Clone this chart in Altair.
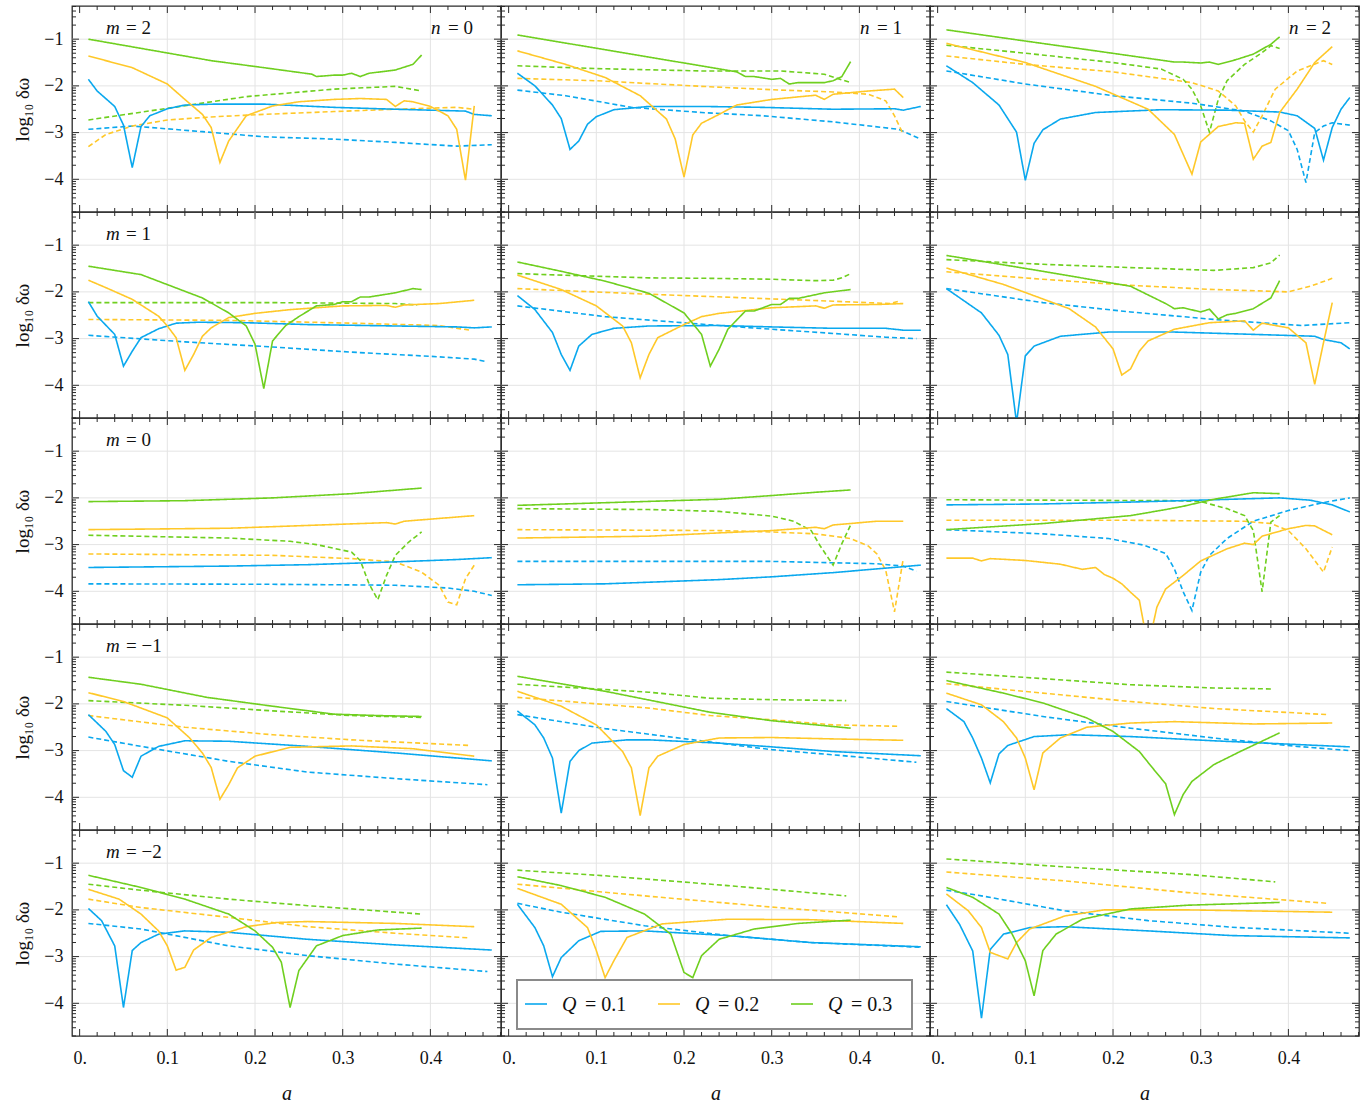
import math
import altair as alt
import pandas as pd

# ---------------- axes / layout constants ----------------
A_DOMAIN = [-0.0087, 0.4805]
V_DOMAIN = [-4.70, -0.29]
W, H = 429, 206

Q_VALUES = ["0.1", "0.2", "0.3"]
Q_COLORS = ["#0AA8EE", "#FFC829", "#6FCF1F"]
M_VALUES = [2, 1, 0, -1, -2]
N_VALUES = [0, 1, 2]

X_MAJOR = [0.0, 0.1, 0.2, 0.3, 0.4]
X_GRID = [0.1, 0.2, 0.3, 0.4]
X_MINOR = [0.02, 0.04, 0.06, 0.08, 0.12, 0.14, 0.16, 0.18, 0.22, 0.24, 0.26, 0.28,
           0.32, 0.34, 0.36, 0.38, 0.42, 0.44, 0.46, 0.48]
Y_MAJOR = [-1, -2, -3, -4]
Y_MINOR = [d + math.log10(k) for d in (-5, -4, -3, -2, -1) for k in range(2, 10)
           if V_DOMAIN[0] < d + math.log10(k) < V_DOMAIN[1]]

# ---------------- data: (a, log10 delta omega) ----------------
m2_n0 = {
    ("0.1", "solid"): [(0.01,-1.86),(0.02,-2.11),(0.04,-2.44),(0.05,-2.84),(0.06,-3.75),(0.07,-2.87),(0.08,-2.64),(0.10,-2.49),(0.12,-2.41),(0.155,-2.39),(0.21,-2.39),(0.29,-2.46),(0.36,-2.50),(0.44,-2.54),(0.45,-2.61),(0.47,-2.64)],
    ("0.1", "dashed"): [(0.01,-2.93),(0.06,-2.86),(0.14,-2.98),(0.21,-3.09),(0.29,-3.14),(0.36,-3.21),(0.43,-3.29),(0.47,-3.26)],
    ("0.2", "solid"): [(0.01,-1.36),(0.06,-1.61),(0.10,-1.96),(0.12,-2.29),(0.14,-2.61),(0.15,-2.89),(0.16,-3.64),(0.17,-3.18),(0.19,-2.64),(0.22,-2.43),(0.25,-2.34),(0.29,-2.29),(0.32,-2.27),(0.35,-2.29),(0.36,-2.44),(0.37,-2.32),(0.38,-2.34),(0.40,-2.44),(0.42,-2.64),(0.43,-2.93),(0.44,-4.02),(0.45,-2.43)],
    ("0.2", "dashed"): [(0.01,-3.30),(0.03,-3.04),(0.06,-2.86),(0.10,-2.73),(0.155,-2.66),(0.21,-2.61),(0.29,-2.55),(0.36,-2.50),(0.43,-2.46),(0.45,-2.50)],
    ("0.3", "solid"): [(0.01,-1.00),(0.15,-1.46),(0.21,-1.61),(0.265,-1.75),(0.27,-1.80),(0.29,-1.77),(0.30,-1.77),(0.31,-1.73),(0.32,-1.80),(0.33,-1.73),(0.36,-1.66),(0.38,-1.54),(0.39,-1.34)],
    ("0.3", "dashed"): [(0.01,-2.73),(0.10,-2.48),(0.19,-2.23),(0.29,-2.07),(0.36,-2.01),(0.39,-2.11)],
}
m2_n1 = {
    ("0.1", "solid"): [(0.01,-1.73),(0.03,-2.00),(0.05,-2.41),(0.06,-2.70),(0.07,-3.36),(0.08,-3.18),(0.09,-2.82),(0.10,-2.66),(0.12,-2.51),(0.16,-2.44),(0.22,-2.44),(0.29,-2.46),(0.37,-2.50),(0.44,-2.49),(0.45,-2.52),(0.47,-2.44)],
    ("0.1", "dashed"): [(0.01,-2.09),(0.065,-2.21),(0.14,-2.46),(0.22,-2.57),(0.29,-2.64),(0.37,-2.77),(0.445,-2.93),(0.47,-3.14)],
    ("0.2", "solid"): [(0.01,-1.25),(0.065,-1.54),(0.11,-1.82),(0.15,-2.21),(0.18,-2.71),(0.19,-3.14),(0.20,-3.95),(0.21,-3.05),(0.22,-2.80),(0.24,-2.61),(0.26,-2.41),(0.30,-2.29),(0.35,-2.20),(0.36,-2.29),(0.37,-2.18),(0.41,-2.11),(0.44,-2.07),(0.45,-2.25)],
    ("0.2", "dashed"): [(0.01,-1.84),(0.10,-1.89),(0.22,-2.01),(0.31,-2.09),(0.37,-2.13),(0.41,-2.18),(0.43,-2.32),(0.44,-2.64),(0.45,-3.04)],
    ("0.3", "solid"): [(0.01,-0.91),(0.20,-1.51),(0.26,-1.70),(0.27,-1.80),(0.28,-1.80),(0.30,-1.86),(0.31,-1.84),(0.32,-1.96),(0.33,-1.93),(0.36,-1.93),(0.37,-1.89),(0.38,-1.80),(0.39,-1.48)],
    ("0.3", "dashed"): [(0.01,-1.57),(0.10,-1.63),(0.22,-1.68),(0.31,-1.68),(0.36,-1.75),(0.39,-1.93)],
}
m2_n2 = {
    ("0.1", "solid"): [(0.01,-1.57),(0.04,-1.93),(0.07,-2.41),(0.09,-2.99),(0.10,-4.02),(0.11,-3.23),(0.12,-2.94),(0.14,-2.71),(0.18,-2.57),(0.255,-2.51),(0.33,-2.52),(0.39,-2.56),(0.41,-2.64),(0.43,-2.91),(0.44,-3.59),(0.45,-2.89),(0.46,-2.50),(0.47,-2.25)],
    ("0.1", "dashed"): [(0.01,-1.68),(0.10,-1.96),(0.20,-2.21),(0.29,-2.37),(0.35,-2.54),(0.38,-2.75),(0.40,-2.96),(0.41,-3.36),(0.42,-4.07),(0.43,-3.00),(0.44,-2.86),(0.45,-2.79),(0.47,-2.84)],
    ("0.2", "solid"): [(0.01,-1.09),(0.10,-1.50),(0.18,-2.01),(0.24,-2.50),(0.27,-3.04),(0.29,-3.89),(0.30,-3.20),(0.32,-2.87),(0.34,-2.79),(0.35,-2.80),(0.36,-3.57),(0.37,-3.29),(0.38,-3.21),(0.39,-2.57),(0.41,-2.07),(0.43,-1.50),(0.45,-1.16)],
    ("0.2", "dashed"): [(0.01,-1.36),(0.10,-1.54),(0.20,-1.70),(0.29,-1.93),(0.32,-2.11),(0.34,-2.43),(0.35,-2.75),(0.36,-2.99),(0.37,-2.64),(0.385,-2.07),(0.41,-1.68),(0.44,-1.46),(0.45,-1.54)],
    ("0.3", "solid"): [(0.01,-0.80),(0.10,-1.04),(0.18,-1.25),(0.27,-1.49),(0.28,-1.49),(0.30,-1.51),(0.31,-1.49),(0.32,-1.54),(0.34,-1.44),(0.36,-1.32),(0.38,-1.11),(0.39,-0.95)],
    ("0.3", "dashed"): [(0.01,-1.13),(0.10,-1.30),(0.20,-1.50),(0.255,-1.64),(0.28,-1.86),(0.29,-2.07),(0.30,-2.43),(0.31,-2.99),(0.32,-2.29),(0.33,-1.89),(0.35,-1.54),(0.37,-1.29),(0.38,-1.14),(0.39,-1.20)],
}
m1_n0 = {
    ("0.1", "solid"): [(0.01,-2.21),(0.02,-2.52),(0.04,-2.91),(0.05,-3.59),(0.06,-3.27),(0.07,-2.98),(0.09,-2.79),(0.11,-2.67),(0.135,-2.65),(0.19,-2.66),(0.26,-2.70),(0.36,-2.73),(0.43,-2.75),(0.45,-2.77),(0.47,-2.75)],
    ("0.1", "dashed"): [(0.01,-2.93),(0.12,-3.07),(0.22,-3.18),(0.31,-3.29),(0.41,-3.39),(0.45,-3.44),(0.465,-3.50)],
    ("0.2", "solid"): [(0.01,-1.75),(0.03,-1.91),(0.06,-2.16),(0.09,-2.52),(0.10,-2.73),(0.11,-2.98),(0.12,-3.68),(0.13,-3.34),(0.14,-2.95),(0.15,-2.77),(0.17,-2.55),(0.20,-2.46),(0.24,-2.38),(0.30,-2.30),(0.35,-2.29),(0.36,-2.33),(0.37,-2.28),(0.41,-2.25),(0.45,-2.18)],
    ("0.2", "dashed"): [(0.01,-2.59),(0.17,-2.61),(0.31,-2.67),(0.41,-2.72),(0.445,-2.82)],
    ("0.3", "solid"): [(0.01,-1.45),(0.07,-1.63),(0.14,-2.13),(0.17,-2.45),(0.19,-2.73),(0.20,-3.12),(0.21,-4.07),(0.22,-3.05),(0.235,-2.72),(0.25,-2.53),(0.27,-2.30),(0.29,-2.27),(0.30,-2.21),(0.31,-2.21),(0.32,-2.11),(0.33,-2.11),(0.36,-2.02),(0.38,-1.93),(0.39,-1.95)],
    ("0.3", "dashed"): [(0.01,-2.23),(0.22,-2.23),(0.36,-2.25),(0.385,-2.28)],
}
m1_n1 = {
    ("0.1", "solid"): [(0.01,-2.08),(0.03,-2.38),(0.05,-2.87),(0.06,-3.34),(0.07,-3.68),(0.08,-3.16),(0.095,-2.91),(0.12,-2.78),(0.16,-2.73),(0.24,-2.72),(0.30,-2.75),(0.37,-2.78),(0.43,-2.78),(0.45,-2.82),(0.47,-2.82)],
    ("0.1", "dashed"): [(0.01,-2.30),(0.11,-2.53),(0.24,-2.72),(0.30,-2.80),(0.37,-2.89),(0.43,-2.97),(0.465,-3.00)],
    ("0.2", "solid"): [(0.01,-1.64),(0.06,-1.95),(0.10,-2.30),(0.13,-2.73),(0.14,-3.09),(0.15,-3.84),(0.16,-3.34),(0.17,-2.98),(0.20,-2.70),(0.22,-2.53),(0.24,-2.46),(0.30,-2.34),(0.35,-2.30),(0.36,-2.35),(0.37,-2.28),(0.42,-2.27),(0.45,-2.25)],
    ("0.2", "dashed"): [(0.01,-1.93),(0.16,-2.05),(0.23,-2.10),(0.30,-2.15),(0.37,-2.20),(0.435,-2.25),(0.445,-2.20)],
    ("0.3", "solid"): [(0.01,-1.36),(0.06,-1.56),(0.11,-1.77),(0.16,-2.03),(0.20,-2.45),(0.22,-2.91),(0.23,-3.59),(0.24,-3.23),(0.25,-2.80),(0.27,-2.41),(0.28,-2.41),(0.30,-2.27),(0.31,-2.27),(0.32,-2.14),(0.33,-2.14),(0.36,-2.02),(0.39,-1.95)],
    ("0.3", "dashed"): [(0.01,-1.61),(0.16,-1.70),(0.23,-1.71),(0.30,-1.73),(0.35,-1.76),(0.37,-1.75),(0.38,-1.70),(0.39,-1.61)],
}
m1_n2 = {
    ("0.1", "solid"): [(0.01,-1.93),(0.05,-2.45),(0.07,-2.93),(0.08,-3.34),(0.09,-4.80),(0.10,-3.37),(0.11,-3.16),(0.14,-2.95),(0.195,-2.86),(0.27,-2.86),(0.36,-2.91),(0.43,-2.95),(0.44,-3.02),(0.46,-3.09),(0.47,-3.22)],
    ("0.1", "dashed"): [(0.01,-1.93),(0.12,-2.23),(0.22,-2.43),(0.315,-2.59),(0.415,-2.72),(0.47,-2.66)],
    ("0.2", "solid"): [(0.01,-1.49),(0.075,-1.84),(0.15,-2.36),(0.18,-2.75),(0.20,-3.22),(0.21,-3.78),(0.22,-3.65),(0.23,-3.27),(0.24,-3.05),(0.27,-2.80),(0.31,-2.66),(0.35,-2.62),(0.36,-2.82),(0.37,-2.67),(0.40,-2.77),(0.42,-3.09),(0.43,-3.98),(0.44,-3.09),(0.45,-2.23)],
    ("0.2", "dashed"): [(0.01,-1.57),(0.12,-1.73),(0.22,-1.86),(0.315,-1.95),(0.40,-2.00),(0.425,-1.88),(0.45,-1.71)],
    ("0.3", "solid"): [(0.01,-1.22),(0.12,-1.56),(0.22,-1.88),(0.26,-2.25),(0.27,-2.36),(0.28,-2.34),(0.30,-2.43),(0.31,-2.37),(0.32,-2.58),(0.33,-2.49),(0.34,-2.46),(0.36,-2.36),(0.38,-2.13),(0.39,-1.76)],
    ("0.3", "dashed"): [(0.01,-1.31),(0.12,-1.41),(0.22,-1.48),(0.315,-1.54),(0.36,-1.48),(0.38,-1.38),(0.39,-1.21)],
}
m0_n0 = {
    ("0.1", "solid"): [(0.01,-3.49),(0.17,-3.46),(0.26,-3.43),(0.36,-3.37),(0.43,-3.32),(0.47,-3.28)],
    ("0.1", "dashed"): [(0.01,-3.84),(0.22,-3.85),(0.36,-3.87),(0.42,-3.93),(0.45,-4.00),(0.47,-4.09)],
    ("0.2", "solid"): [(0.01,-2.68),(0.17,-2.65),(0.26,-2.59),(0.35,-2.53),(0.36,-2.56),(0.37,-2.50),(0.45,-2.38)],
    ("0.2", "dashed"): [(0.01,-3.20),(0.22,-3.23),(0.31,-3.30),(0.36,-3.37),(0.39,-3.59),(0.41,-3.87),(0.42,-4.23),(0.43,-4.29),(0.44,-3.73),(0.45,-3.44)],
    ("0.3", "solid"): [(0.01,-2.08),(0.12,-2.06),(0.22,-2.00),(0.31,-1.91),(0.39,-1.79)],
    ("0.3", "dashed"): [(0.01,-2.80),(0.17,-2.86),(0.24,-2.93),(0.27,-3.00),(0.31,-3.16),(0.32,-3.34),(0.33,-3.84),(0.34,-4.18),(0.35,-3.66),(0.36,-3.23),(0.375,-2.95),(0.39,-2.73)],
}
m0_n1 = {
    ("0.1", "solid"): [(0.01,-3.86),(0.11,-3.84),(0.24,-3.75),(0.30,-3.69),(0.37,-3.60),(0.42,-3.52),(0.47,-3.44)],
    ("0.1", "dashed"): [(0.01,-3.36),(0.30,-3.36),(0.42,-3.41),(0.45,-3.46),(0.465,-3.57)],
    ("0.2", "solid"): [(0.01,-2.86),(0.16,-2.82),(0.24,-2.75),(0.30,-2.70),(0.35,-2.63),(0.36,-2.66),(0.37,-2.58),(0.42,-2.50),(0.45,-2.50)],
    ("0.2", "dashed"): [(0.01,-2.68),(0.24,-2.70),(0.30,-2.73),(0.35,-2.77),(0.39,-2.87),(0.41,-3.03),(0.42,-3.20),(0.43,-3.55),(0.44,-4.44),(0.45,-3.30)],
    ("0.3", "solid"): [(0.01,-2.16),(0.24,-2.03),(0.30,-1.95),(0.35,-1.88),(0.39,-1.83)],
    ("0.3", "dashed"): [(0.01,-2.23),(0.16,-2.25),(0.24,-2.29),(0.30,-2.39),(0.325,-2.50),(0.345,-2.70),(0.355,-3.02),(0.37,-3.44),(0.38,-2.98),(0.39,-2.58)],
}
m0_n2 = {
    ("0.1", "solid"): [(0.01,-2.15),(0.12,-2.13),(0.22,-2.09),(0.315,-2.04),(0.39,-2.00),(0.425,-2.05),(0.45,-2.15),(0.47,-2.30)],
    ("0.1", "dashed"): [(0.01,-2.68),(0.12,-2.77),(0.195,-2.87),(0.235,-3.01),(0.26,-3.19),(0.27,-3.52),(0.28,-4.01),(0.29,-4.41),(0.30,-3.59),(0.31,-3.23),(0.33,-2.87),(0.36,-2.50),(0.40,-2.27),(0.44,-2.10),(0.47,-2.00)],
    ("0.2", "solid"): [(0.01,-3.29),(0.04,-3.29),(0.05,-3.35),(0.06,-3.30),(0.10,-3.34),(0.14,-3.42),(0.165,-3.53),(0.18,-3.49),(0.19,-3.64),(0.20,-3.72),(0.21,-3.84),(0.22,-4.02),(0.23,-4.19),(0.24,-5.20),(0.25,-4.34),(0.26,-3.95),(0.28,-3.66),(0.30,-3.35),(0.33,-3.09),(0.35,-2.97),(0.36,-3.00),(0.37,-2.82),(0.40,-2.66),(0.42,-2.59),(0.43,-2.60),(0.45,-2.79)],
    ("0.2", "dashed"): [(0.01,-2.48),(0.22,-2.48),(0.35,-2.50),(0.38,-2.55),(0.40,-2.70),(0.42,-3.09),(0.44,-3.59),(0.45,-3.05)],
    ("0.3", "solid"): [(0.01,-2.68),(0.12,-2.55),(0.22,-2.38),(0.26,-2.25),(0.28,-2.18),(0.315,-2.03),(0.36,-1.89),(0.39,-1.91)],
    ("0.3", "dashed"): [(0.01,-2.04),(0.27,-2.06),(0.30,-2.08),(0.33,-2.23),(0.35,-2.38),(0.36,-2.70),(0.37,-4.01),(0.38,-2.52),(0.39,-2.38)],
}
mm1_n0 = {
    ("0.1", "solid"): [(0.01,-2.23),(0.03,-2.59),(0.04,-2.87),(0.05,-3.43),(0.06,-3.57),(0.07,-3.12),(0.09,-2.91),(0.12,-2.79),(0.17,-2.80),(0.26,-2.91),(0.36,-3.05),(0.47,-3.22)],
    ("0.1", "dashed"): [(0.01,-2.71),(0.07,-2.91),(0.17,-3.23),(0.26,-3.46),(0.36,-3.60),(0.465,-3.73)],
    ("0.2", "solid"): [(0.01,-1.76),(0.05,-1.95),(0.10,-2.30),(0.125,-2.72),(0.14,-3.05),(0.15,-3.36),(0.16,-4.04),(0.17,-3.73),(0.18,-3.37),(0.20,-3.12),(0.24,-2.93),(0.31,-2.90),(0.38,-2.96),(0.45,-3.12)],
    ("0.2", "dashed"): [(0.01,-2.25),(0.12,-2.50),(0.22,-2.66),(0.31,-2.77),(0.445,-2.89)],
    ("0.3", "solid"): [(0.01,-1.43),(0.07,-1.58),(0.145,-1.86),(0.22,-2.05),(0.29,-2.22),(0.34,-2.25),(0.39,-2.27)],
    ("0.3", "dashed"): [(0.01,-1.93),(0.12,-2.03),(0.22,-2.15),(0.31,-2.25),(0.39,-2.29)],
}
mm1_n1 = {
    ("0.1", "solid"): [(0.01,-2.15),(0.03,-2.45),(0.04,-2.73),(0.05,-3.16),(0.06,-4.34),(0.07,-3.23),(0.08,-3.00),(0.095,-2.84),(0.135,-2.77),(0.16,-2.77),(0.24,-2.84),(0.30,-2.92),(0.37,-3.02),(0.47,-3.11)],
    ("0.1", "dashed"): [(0.01,-2.23),(0.11,-2.53),(0.24,-2.84),(0.30,-2.98),(0.37,-3.09),(0.465,-3.25)],
    ("0.2", "solid"): [(0.01,-1.73),(0.06,-2.05),(0.10,-2.45),(0.13,-3.02),(0.14,-3.37),(0.15,-4.39),(0.16,-3.37),(0.17,-3.12),(0.20,-2.87),(0.24,-2.73),(0.30,-2.72),(0.37,-2.75),(0.45,-2.78)],
    ("0.2", "dashed"): [(0.01,-1.86),(0.16,-2.09),(0.23,-2.25),(0.30,-2.34),(0.37,-2.45),(0.445,-2.48)],
    ("0.3", "solid"): [(0.01,-1.41),(0.11,-1.73),(0.23,-2.18),(0.30,-2.36),(0.39,-2.52)],
    ("0.3", "dashed"): [(0.01,-1.58),(0.16,-1.75),(0.23,-1.88),(0.30,-1.91),(0.385,-1.93)],
}
mm1_n2 = {
    ("0.1", "solid"): [(0.01,-2.10),(0.03,-2.38),(0.04,-2.73),(0.05,-3.16),(0.06,-3.69),(0.07,-3.07),(0.08,-2.89),(0.11,-2.70),(0.15,-2.66),(0.22,-2.70),(0.315,-2.79),(0.41,-2.87),(0.47,-2.92)],
    ("0.1", "dashed"): [(0.01,-1.95),(0.12,-2.27),(0.22,-2.52),(0.315,-2.73),(0.41,-2.91),(0.47,-3.00)],
    ("0.2", "solid"): [(0.01,-1.77),(0.05,-2.02),(0.075,-2.38),(0.09,-2.73),(0.10,-3.16),(0.11,-3.84),(0.12,-3.05),(0.14,-2.73),(0.17,-2.50),(0.22,-2.41),(0.27,-2.38),(0.36,-2.43),(0.45,-2.41)],
    ("0.2", "dashed"): [(0.01,-1.57),(0.12,-1.77),(0.22,-1.95),(0.315,-2.10),(0.445,-2.23)],
    ("0.3", "solid"): [(0.01,-1.50),(0.075,-1.77),(0.12,-1.98),(0.17,-2.30),(0.20,-2.59),(0.23,-3.02),(0.245,-3.37),(0.26,-3.71),(0.27,-4.37),(0.28,-3.94),(0.29,-3.66),(0.315,-3.30),(0.345,-3.02),(0.39,-2.62)],
    ("0.3", "dashed"): [(0.01,-1.32),(0.12,-1.46),(0.22,-1.59),(0.315,-1.66),(0.38,-1.68)],
}
mm2_n0 = {
    ("0.1", "solid"): [(0.01,-1.97),(0.025,-2.23),(0.04,-2.77),(0.05,-4.09),(0.06,-2.87),(0.07,-2.70),(0.09,-2.52),(0.12,-2.45),(0.17,-2.48),(0.26,-2.63),(0.36,-2.75),(0.47,-2.86)],
    ("0.1", "dashed"): [(0.01,-2.29),(0.07,-2.41),(0.17,-2.77),(0.26,-2.98),(0.36,-3.16),(0.465,-3.32)],
    ("0.2", "solid"): [(0.01,-1.56),(0.045,-1.77),(0.07,-2.09),(0.09,-2.45),(0.10,-2.77),(0.11,-3.29),(0.12,-3.23),(0.13,-2.86),(0.15,-2.59),(0.19,-2.36),(0.225,-2.27),(0.26,-2.25),(0.36,-2.29),(0.45,-2.36)],
    ("0.2", "dashed"): [(0.01,-1.77),(0.07,-1.95),(0.17,-2.16),(0.26,-2.36),(0.36,-2.50),(0.445,-2.60)],
    ("0.3", "solid"): [(0.01,-1.26),(0.07,-1.52),(0.12,-1.77),(0.17,-2.09),(0.20,-2.45),(0.22,-2.80),(0.23,-3.12),(0.24,-4.09),(0.25,-3.30),(0.27,-2.77),(0.30,-2.55),(0.34,-2.43),(0.39,-2.39)],
    ("0.3", "dashed"): [(0.01,-1.45),(0.07,-1.58),(0.17,-1.77),(0.26,-1.91),(0.39,-2.09)],
}
mm2_n1 = {
    ("0.1", "solid"): [(0.01,-1.88),(0.03,-2.38),(0.04,-2.77),(0.05,-3.43),(0.06,-3.02),(0.08,-2.66),(0.105,-2.46),(0.155,-2.45),(0.25,-2.55),(0.345,-2.70),(0.47,-2.79)],
    ("0.1", "dashed"): [(0.01,-1.86),(0.06,-2.05),(0.155,-2.34),(0.25,-2.55),(0.345,-2.70),(0.47,-2.80)],
    ("0.2", "solid"): [(0.01,-1.54),(0.06,-1.88),(0.09,-2.38),(0.10,-2.87),(0.11,-3.45),(0.12,-3.09),(0.135,-2.59),(0.175,-2.30),(0.25,-2.20),(0.345,-2.21),(0.45,-2.29)],
    ("0.2", "dashed"): [(0.01,-1.45),(0.155,-1.70),(0.30,-1.94),(0.445,-2.15)],
    ("0.3", "solid"): [(0.01,-1.29),(0.06,-1.48),(0.11,-1.73),(0.155,-2.09),(0.185,-2.52),(0.20,-3.34),(0.21,-3.45),(0.22,-2.98),(0.24,-2.63),(0.28,-2.41),(0.33,-2.29),(0.39,-2.22)],
    ("0.3", "dashed"): [(0.01,-1.15),(0.11,-1.27),(0.25,-1.48),(0.385,-1.70)],
}
mm2_n2 = {
    ("0.1", "solid"): [(0.01,-1.89),(0.025,-2.31),(0.04,-2.88),(0.05,-4.32),(0.06,-2.85),(0.075,-2.52),(0.105,-2.38),(0.145,-2.36),(0.24,-2.45),(0.335,-2.55),(0.47,-2.60)],
    ("0.1", "dashed"): [(0.01,-1.58),(0.05,-1.70),(0.145,-2.02),(0.24,-2.23),(0.335,-2.37),(0.47,-2.50)],
    ("0.2", "solid"): [(0.01,-1.66),(0.035,-2.02),(0.05,-2.38),(0.06,-2.91),(0.07,-2.98),(0.08,-3.05),(0.09,-2.70),(0.105,-2.41),(0.145,-2.13),(0.19,-2.00),(0.285,-2.00),(0.45,-2.05)],
    ("0.2", "dashed"): [(0.01,-1.19),(0.145,-1.38),(0.285,-1.63),(0.445,-1.86)],
    ("0.3", "solid"): [(0.01,-1.52),(0.04,-1.73),(0.07,-2.09),(0.085,-2.52),(0.10,-3.09),(0.11,-3.84),(0.12,-2.87),(0.135,-2.52),(0.165,-2.20),(0.22,-1.98),(0.285,-1.90),(0.39,-1.84)],
    ("0.3", "dashed"): [(0.01,-0.91),(0.145,-1.08),(0.285,-1.24),(0.385,-1.40)],
}

PANELS = {
    (2, 0): m2_n0, (2, 1): m2_n1, (2, 2): m2_n2,
    (1, 0): m1_n0, (1, 1): m1_n1, (1, 2): m1_n2,
    (0, 0): m0_n0, (0, 1): m0_n1, (0, 2): m0_n2,
    (-1, 0): mm1_n0, (-1, 1): mm1_n1, (-1, 2): mm1_n2,
    (-2, 0): mm2_n0, (-2, 1): mm2_n1, (-2, 2): mm2_n2,
}

# ---------------- styling ----------------
FONT = "Liberation Serif"
FRAME = "#2b2b2b"
GRID = "#e4e4e4"
MAJ, MINL = 7, 4


def minus(v):
    return str(v).replace("-", "\u2212")


def make_panel(m, n, r, c):
    bottom = r == len(M_VALUES) - 1
    left = c == 0
    xscale = alt.Scale(domain=A_DOMAIN, nice=False, zero=False)
    yscale = alt.Scale(domain=V_DOMAIN, nice=False, zero=False)
    if bottom:
        xaxis = alt.Axis(values=X_MAJOR, grid=False, ticks=False, domain=False,
                         labelExpr="datum.value == 0 ? '0.' : format(datum.value, '.1f')",
                         labelPadding=13, labelFont=FONT, labelFontSize=18, labelColor="#111",
                         title="a", titleFont=FONT, titleFontSize=20, titleFontStyle="italic",
                         titleFontWeight="normal", titleColor="#111",
                         titlePadding=16, labelFlush=False)
    else:
        xaxis = alt.Axis(values=X_MAJOR, grid=False, ticks=False, domain=False,
                         labels=False, title=None)
    if left:
        yaxis = alt.Axis(values=Y_MAJOR, grid=False, ticks=False, domain=False,
                         labelExpr="'\u2212' + abs(datum.value)", labelPadding=9,
                         labelFont=FONT, labelFontSize=18, labelColor="#111",
                         title="log\u2081\u2080 \u03b4\u03c9", titleFont=FONT, titleFontSize=19,
                         titleFontWeight="normal", titleColor="#111", titlePadding=11)
    else:
        yaxis = alt.Axis(values=Y_MAJOR, grid=False, ticks=False, domain=False,
                         labels=False, title=None)

    def X(f):
        return alt.X(f, type="quantitative", scale=xscale, axis=xaxis)

    def Y(f):
        return alt.Y(f, type="quantitative", scale=yscale, axis=yaxis)

    rows = []
    for (q, style), pts in PANELS[(m, n)].items():
        for a, v in pts:
            rows.append({"a": a, "v": v, "Q": q, "style": style})
    df = pd.DataFrame(rows)

    layers = []
    # grid lines
    layers.append(alt.Chart(pd.DataFrame({"a": X_GRID})).mark_rule(color=GRID, strokeWidth=1).encode(x=X("a")))
    layers.append(alt.Chart(pd.DataFrame({"v": Y_MAJOR})).mark_rule(color=GRID, strokeWidth=1).encode(y=Y("v")))
    color = alt.Color("Q:N", scale=alt.Scale(domain=Q_VALUES, range=Q_COLORS), legend=None)
    for style, dash in (("dashed", [5, 3]), ("solid", [1, 0])):
        layers.append(
            alt.Chart(df).transform_filter(f"datum.style == '{style}'")
            .mark_line(clip=True, strokeWidth=1.6, strokeDash=dash, strokeCap="butt")
            .encode(x=X("a"), y=Y("v"), color=color, detail="Q:N")
        )
    # inward frame ticks
    for vals, ln in ((X_MAJOR, MAJ), (X_MINOR, MINL)):
        tdf = pd.DataFrame({"a": vals})
        layers.append(alt.Chart(tdf).mark_rule(color=FRAME, strokeWidth=1).encode(
            x=X("a"), y=alt.value(H), y2=alt.value(H - ln)))
        layers.append(alt.Chart(tdf).mark_rule(color=FRAME, strokeWidth=1).encode(
            x=X("a"), y=alt.value(0), y2=alt.value(ln)))
    for vals, ln in ((Y_MAJOR, MAJ), (Y_MINOR, MINL)):
        tdf = pd.DataFrame({"v": vals})
        layers.append(alt.Chart(tdf).mark_rule(color=FRAME, strokeWidth=1).encode(
            y=Y("v"), x=alt.value(0), x2=alt.value(ln)))
        layers.append(alt.Chart(tdf).mark_rule(color=FRAME, strokeWidth=1).encode(
            y=Y("v"), x=alt.value(W), x2=alt.value(W - ln)))

    def txt(s, x, y, italic=False, align="left", size=19):
        kw = dict(font=FONT, fontSize=size, align=align, baseline="middle", color="#111")
        if italic:
            kw["fontStyle"] = "italic"
        return alt.Chart(pd.DataFrame({"t": [s]})).mark_text(**kw).encode(
            x=alt.value(x), y=alt.value(y), text="t:N")

    if left:
        layers.append(txt("m", 34, 22, italic=True))
        layers.append(txt("= " + minus(m), 54, 22))
    if r == 0:
        layers.append(txt("n", 359, 22, italic=True))
        layers.append(txt("= " + str(n), 376, 22))

    if bottom and c == 1:
        box = pd.DataFrame({"k": [0]})
        layers.append(alt.Chart(box).mark_rect(fill="white", stroke="#8a8a8a", strokeWidth=2).encode(
            x=alt.value(16), x2=alt.value(411), y=alt.value(150), y2=alt.value(199)))
        for i, q in enumerate(Q_VALUES):
            x0 = 24 + i * 133
            layers.append(alt.Chart(box).mark_rule(color=Q_COLORS[i], strokeWidth=1.6).encode(
                x=alt.value(x0), x2=alt.value(x0 + 22), y=alt.value(174)))
            layers.append(txt("Q", x0 + 37, 175, italic=True, size=20))
            layers.append(txt("= " + q, x0 + 60, 175, size=20))

    return alt.layer(*layers).properties(width=W, height=H)


panels = [make_panel(m, n, r, c) for r, m in enumerate(M_VALUES) for c, n in enumerate(N_VALUES)]

chart = (
    alt.concat(*panels, columns=3, spacing=0, bounds="flush")
    .properties(padding={"left": 13, "top": 4, "right": 5, "bottom": 2})
    .configure_view(stroke=FRAME, strokeWidth=1.3)
    .configure_axis(labelFont=FONT, titleFont=FONT, labelFontSize=18, titleFontSize=19,
                    labelColor="#111", titleColor="#111", titleFontWeight="normal")
)

chart.save("out.html", embed_options={"renderer": "svg", "actions": False})
